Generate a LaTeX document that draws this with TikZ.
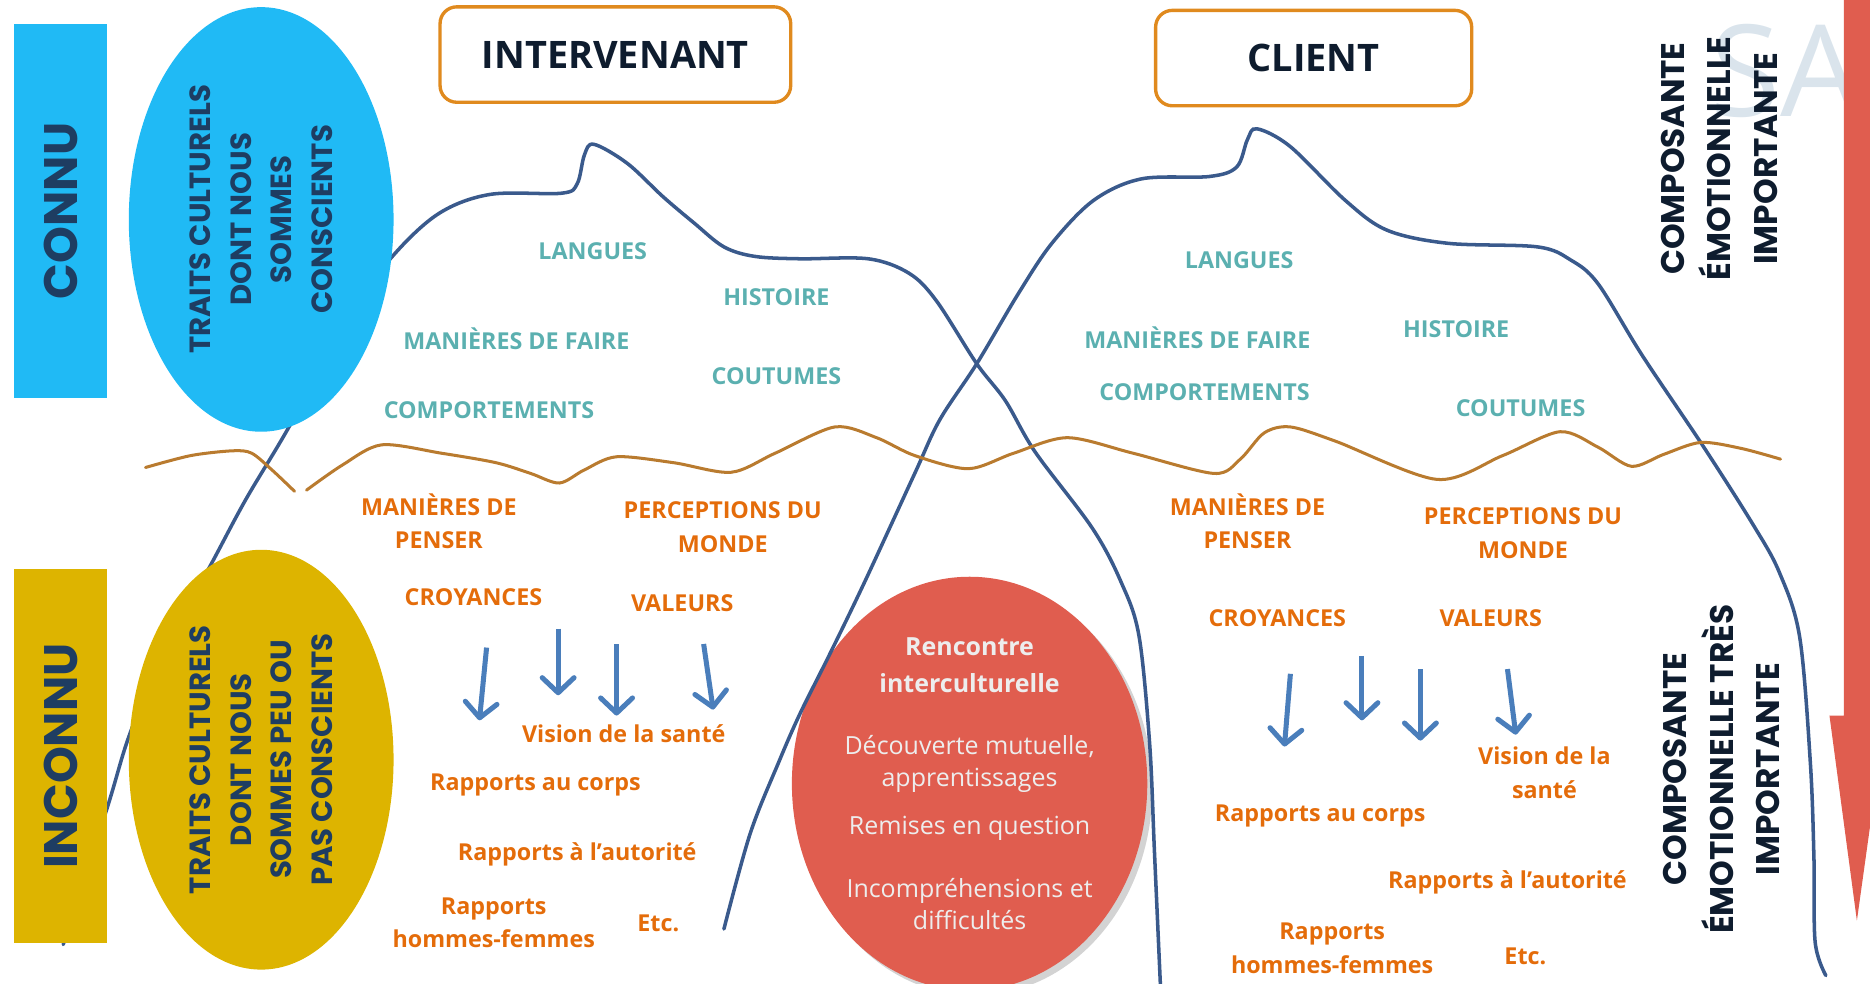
\documentclass[tikz,border=0pt]{standalone}
\usepackage{fontspec}
\setmainfont{Open Sans}
\newfontfamily\geofont{Poppins}
\usetikzlibrary{shapes.geometric, arrows.meta, shadows}

\definecolor{connublue}{RGB}{32,186,245}
\definecolor{inconnugold}{RGB}{221,180,0}
\definecolor{navytext}{RGB}{30,61,98}
\definecolor{icenavy}{RGB}{58,90,140}
\definecolor{waterbrown}{RGB}{185,123,47}
\definecolor{surfteal}{RGB}{91,176,176}
\definecolor{deeporange}{RGB}{228,108,10}
\definecolor{arrowblue}{RGB}{74,126,187}
\definecolor{meetred}{RGB}{224,93,79}
\definecolor{boxorange}{RGB}{224,138,30}
\definecolor{titleink}{RGB}{14,28,46}
\definecolor{markgrey}{RGB}{218,228,236}

\tikzstyle{sidebox} = [rectangle, rotate=90, minimum width=78.5mm, minimum height=19.6mm, inner sep=0pt, text=navytext, font=\geofont\bfseries\fontsize{28}{28}\selectfont]
\tikzstyle{traits} = [ellipse, rotate=90, minimum height=55.5mm, inner sep=0pt, align=center, text=navytext, font=\geofont\bfseries\fontsize{17.4}{24.2}\selectfont]
\tikzstyle{who} = [rectangle, rounded corners=3.5mm, draw=boxorange, line width=2pt, fill=white, minimum height=20mm, text=titleink, font=\bfseries\fontsize{22.6}{22.6}\selectfont]
\tikzstyle{surface} = [text=surfteal, font=\bfseries\fontsize{13.9}{19.9}\selectfont, align=center, inner sep=0pt]
\tikzstyle{deep} = [text=deeporange, font=\bfseries\fontsize{13.9}{19.9}\selectfont, align=center, inner sep=0pt]
\tikzstyle{emotion} = [rotate=90, align=center, inner sep=0pt, text=titleink, font=\geofont\bfseries\fontsize{19.5}{27.7}\selectfont]
\tikzstyle{meeting} = [ellipse, fill=meetred, minimum width=74.5mm, minimum height=83.5mm, inner sep=0pt, align=center, text=white!93!black, font=\fontsize{14.9}{19.2}\selectfont, drop shadow={shadow xshift=3pt, shadow yshift=-3pt, opacity=0.35}]
\tikzstyle{iceline} = [draw=icenavy, line width=2.1pt, line cap=round]
\tikzstyle{waterline} = [draw=waterbrown, line width=1.8pt, line cap=round]
\tikzstyle{arrow} = [draw=arrowblue, line width=3pt, -{Straight Barb[length=9pt, width=19pt, round]}]

\begin{document}
\begin{tikzpicture}[x=0.25mm, y=-0.25mm]
\useasboundingbox (0,0) rectangle (1568,825);

% faint mark and red scale on the right
\node (mark) [anchor=base west, inner sep=0pt, text=markgrey, font=\fontsize{76}{76}\selectfont] at (1434,98) {SA};
\fill [meetred] (1546,-5) -- (1575,-5) -- (1575,600) -- (1581,600) -- (1557,772) -- (1534,600) -- (1546,600) -- cycle;

% meeting zone
\node (meet) [meeting] at (813,657) {{\bfseries Rencontre}\\[2.85pt]{\bfseries interculturelle}\\[17.8pt]D\'ecouverte mutuelle,\\apprentissages\\[9.3pt]Remises en question\\[18.5pt]Incompr\'ehensions et\\difficult\'es};

% the two icebergs
\draw [iceline] plot [smooth, tension=0.55] coordinates {(53,792) (90,677) (109,615) (140,540) (176,475) (206,419) (244,355) (290,268) (329,215) (368,179) (411,163) (471,162) (484,154) (490,130) (498,121) (526,137) (556,165) (582,187) (607,207) (633,215) (671,217) (728,217) (762,229) (785,252) (819,305) (843,336) (868,379) (916,443) (940,488) (955,533) (964,624) (968,714) (973,826)};
\draw [iceline] plot [smooth, tension=0.55] coordinates {(607,779) (629,699) (653,639) (671,598) (696,548) (725,488) (767,397) (788,352) (819,305) (854,246) (882,204) (917,168) (957,150) (1014,148) (1037,140) (1046,117) (1054,108) (1082,123) (1128,168) (1163,193) (1214,204) (1289,207) (1317,218) (1340,238) (1377,298) (1428,374) (1470,440) (1492,480) (1509,534) (1518,640) (1521,720) (1522,790) (1531,818)};

% water line
\draw [waterline] plot [smooth, tension=0.5] coordinates {(122,392) (160,382) (195,378) (211,380) (228,394) (247,412)};
\draw [waterline] plot [smooth, tension=0.5] coordinates {(257,411) (287,390) (320,373) (370,380) (416,388) (445,397) (469,405) (490,394) (517,383) (565,388) (613,396) (650,380) (700,358) (735,367) (767,382) (812,393) (850,380) (895,367) (950,380) (1018,397) (1040,385) (1060,363) (1082,358) (1120,370) (1205,402) (1260,382) (1308,362) (1340,375) (1368,391) (1395,381) (1426,371) (1460,376) (1493,385)};

% left column
\node (known) [sidebox, fill=connublue] at (50.75,177) {CONNU};
\node (unknown) [sidebox, fill=inconnugold] at (50.75,634) {INCONNU};
\node (aware) [traits, fill=connublue, minimum width=89mm] at (219,184) {TRAITS CULTURELS\\DONT NOUS\\SOMMES\\CONSCIENTS};
\node (unaware) [traits, fill=inconnugold, minimum width=88mm] at (219,637) {TRAITS CULTURELS\\DONT NOUS\\SOMMES PEU OU\\PAS CONSCIENTS};

% titles
\node (worker) [who, minimum width=73.5mm] at (516,45.75) {INTERVENANT};
\node (client) [who, minimum width=66.25mm] at (1101.5,48.7) {CLIENT};

% intervenant, above water
\node (llang) [surface] at (497,211) {LANGUES};
\node (lhist) [surface] at (651,249) {HISTOIRE};
\node (ldo) [surface] at (433,284) {MANI\`ERES DE FAIRE};
\node (lcust) [surface] at (651,315) {COUTUMES};
\node (lbehav) [surface] at (410,344) {COMPORTEMENTS};

% intervenant, below water
\node (lthink) [deep] at (368,437) {MANI\`ERES DE\\PENSER};
\node (lworld) [deep] at (606,442) {PERCEPTIONS DU\\MONDE};
\node (lbelief) [deep] at (397,501) {CROYANCES};
\node (lvalue) [deep] at (572,506) {VALEURS};
\node (lhealth) [deep] at (523,615) {Vision de la sant\'e};
\node (lbody) [deep] at (449,658) {Rapports au corps};
\node (lpower) [deep] at (484,716) {Rapports \`a l’autorit\'e};
\node (lgender) [deep] at (414,774) {Rapports\\hommes-femmes};
\node (letc) [deep] at (552,774) {Etc.};

% client, above water
\node (rlang) [surface] at (1039,218) {LANGUES};
\node (rdo) [surface] at (1004,283) {MANI\`ERES DE FAIRE};
\node (rhist) [surface] at (1221,276) {HISTOIRE};
\node (rbehav) [surface] at (1010,329) {COMPORTEMENTS};
\node (rcust) [surface] at (1275,342) {COUTUMES};

% client, below water
\node (rthink) [deep] at (1046,437) {MANI\`ERES DE\\PENSER};
\node (rworld) [deep] at (1277,447) {PERCEPTIONS DU\\MONDE};
\node (rbelief) [deep] at (1071,518) {CROYANCES};
\node (rvalue) [deep] at (1250,518) {VALEURS};
\node (rhealth) [deep] at (1295,648) {Vision de la\\sant\'e};
\node (rbody) [deep] at (1107,684) {Rapports au corps};
\node (rpower) [deep] at (1264,740) {Rapports \`a l’autorit\'e};
\node (rgender) [deep] at (1117,795) {Rapports\\hommes-femmes};
\node (retc) [deep] at (1279,802) {Etc.};

% arrows
\coordinate (la1) at (408,543); \coordinate (lb1) at (402,604);
\coordinate (la2) at (468,527); \coordinate (lb2) at (468,583);
\coordinate (la3) at (517,540); \coordinate (lb3) at (517,600);
\coordinate (la4) at (590,540); \coordinate (lb4) at (598,595);
\coordinate (ra1) at (1082,565); \coordinate (rb1) at (1077,626);
\coordinate (ra2) at (1142,550); \coordinate (rb2) at (1142,604);
\coordinate (ra3) at (1191,561); \coordinate (rb3) at (1191,621);
\coordinate (ra4) at (1264,561); \coordinate (rb4) at (1271,616);
\draw [arrow] (la1) -- (lb1);
\draw [arrow] (la2) -- (lb2);
\draw [arrow] (la3) -- (lb3);
\draw [arrow] (la4) -- (lb4);
\draw [arrow] (ra1) -- (rb1);
\draw [arrow] (ra2) -- (rb2);
\draw [arrow] (ra3) -- (rb3);
\draw [arrow] (ra4) -- (rb4);

% right hand notes
\node (emotop) [emotion] at (1441.5,133) {COMPOSANTE\\\'EMOTIONNELLE\\IMPORTANTE};
\node (emobot) [emotion] at (1443.5,645) {COMPOSANTE\\\'EMOTIONNELLE TR\`ES\\IMPORTANTE};
\end{tikzpicture}
\end{document}
